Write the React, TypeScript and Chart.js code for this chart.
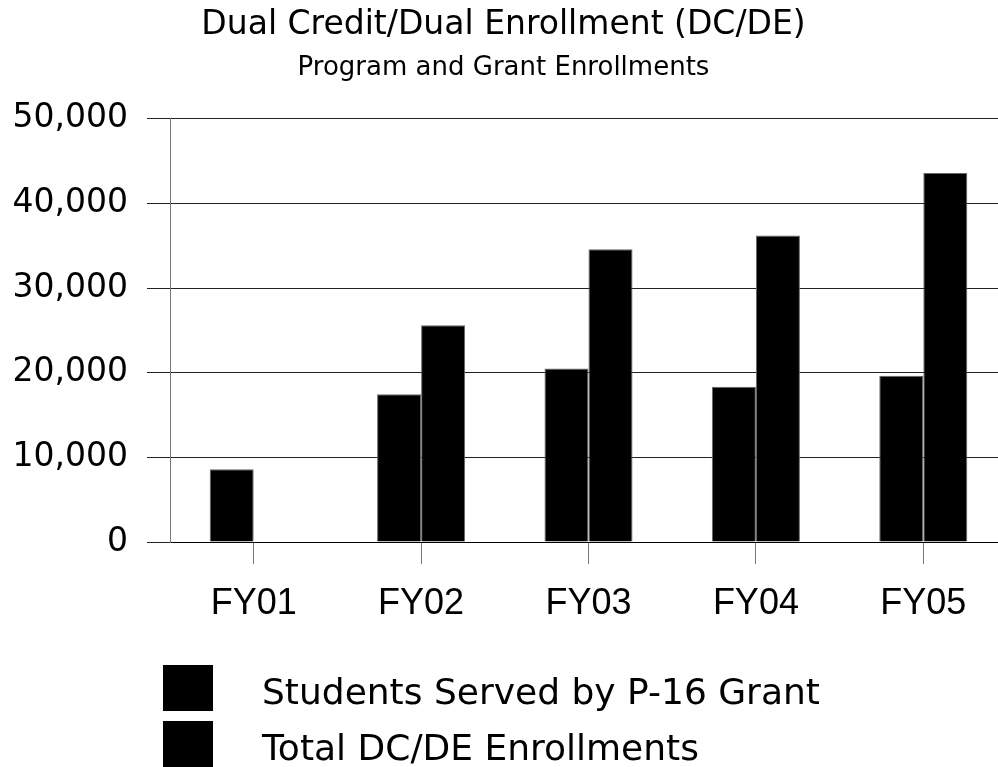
import React, { useEffect, useRef } from "react";
import { Chart, registerables } from "chart.js";

Chart.register(...registerables);

const categories = ["FY01", "FY02", "FY03", "FY04", "FY05"];
const grantStudents = [8600, 17450, 20500, 18350, 19650];
const totalEnrollments = [null, 25600, 34600, 36200, 43600];
const seriesLabels = ["Students Served by P-16 Grant", "Total DC/DE Enrollments"];
const titleText = "Dual Credit/Dual Enrollment (DC/DE)";
const subtitleText = "Program and Grant Enrollments";
const yMin = 0;
const yMax = 50000;
const yStep = 10000;

const CANVAS_W = 1007;
const CANVAS_H = 767;

const boxLegend = {
  id: "boxLegend",
  afterDraw(chart: any) {
    const ctx = chart.ctx;
    ctx.save();
    chart.data.datasets.forEach((ds: any, i: number) => {
      const top = 665 + i * 56;
      ctx.fillStyle = ds.backgroundColor;
      ctx.fillRect(163, top, 50, 46);
      ctx.fillStyle = "#000";
      ctx.font = "36px 'DejaVu Sans'";
      ctx.textAlign = "left";
      ctx.textBaseline = "alphabetic";
      ctx.fillText(ds.label, 262, top + 39);
    });
    ctx.restore();
  },
};

export default function App() {
  const ref = useRef<HTMLCanvasElement | null>(null);

  useEffect(() => {
    document.body.style.overflow = "hidden";
    const canvas = ref.current;
    if (!canvas) return;
    const chart = new Chart(canvas, {
      type: "bar",
      data: {
        labels: categories,
        datasets: [
          {
            label: seriesLabels[0],
            data: grantStudents,
            backgroundColor: "#000",
            borderColor: "#666",
            borderWidth: 1,
            categoryPercentage: 0.526,
            barPercentage: 1.0,
          },
          {
            label: seriesLabels[1],
            data: totalEnrollments as any,
            backgroundColor: "#000",
            borderColor: "#666",
            borderWidth: 1,
            categoryPercentage: 0.526,
            barPercentage: 1.0,
          },
        ],
      },
      options: {
        responsive: false,
        animation: false,
        devicePixelRatio: 1,
        layout: { padding: { left: 0, right: 0, top: 0, bottom: 135 } },
        plugins: {
          legend: { display: false },
          tooltip: { enabled: false },
          title: {
            display: true,
            text: titleText,
            color: "#000",
            font: { family: "'DejaVu Sans'", size: 33, weight: "normal" },
            padding: { top: 6, bottom: 0 },
          },
          subtitle: {
            display: true,
            text: subtitleText,
            color: "#000",
            font: { family: "'DejaVu Sans'", size: 26, weight: "normal" },
            padding: { top: 7, bottom: 35 },
          },
        },
        scales: {
          x: {
            afterFit: (s: any) => {
              s.height = 90;
            },
            grid: {
              drawOnChartArea: false,
              drawTicks: true,
              tickLength: 22,
              offset: false,
              color: "#777",
            },
            border: { display: true, color: "#000", width: 1 },
            ticks: {
              color: "#000",
              padding: 18,
              font: { family: "'Liberation Sans'", size: 36 },
            },
          },
          y: {
            min: yMin,
            max: yMax,
            afterFit: (s: any) => {
              s.width = 170;
            },
            grid: {
              color: "#222",
              tickLength: 23,
              drawTicks: true,
            },
            border: { display: true, color: "#777", width: 1 },
            ticks: {
              stepSize: yStep,
              color: "#000",
              padding: 19,
              font: { family: "'DejaVu Sans'", size: 33 },
              callback: (v: any) => Number(v).toLocaleString("en-US"),
            },
          },
        },
      },
      plugins: [boxLegend],
    });
    return () => chart.destroy();
  }, []);

  return (
    <div
      style={{
        position: "fixed",
        left: 0,
        top: 0,
        width: CANVAS_W,
        height: CANVAS_H,
        background: "#fff",
      }}
    >
      <canvas ref={ref} width={CANVAS_W} height={CANVAS_H} />
    </div>
  );
}
